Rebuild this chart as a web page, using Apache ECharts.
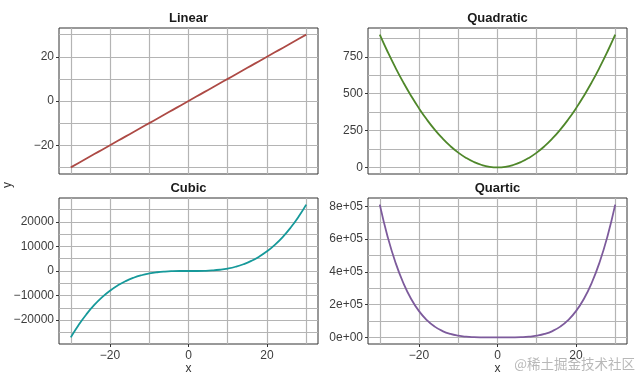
<!DOCTYPE html>
<html>
<head>
<meta charset="utf-8">
<script src="https://cdn.jsdelivr.net/npm/echarts@6/dist/echarts.min.js"></script>
<style>
html, body { margin: 0; padding: 0; background: #fff; }
#chart { width: 640px; height: 376px; }
</style>
</head>
<body>
<div id="chart"></div>
<script>
// x values shared by all four panels
const xs = [-30, -28, -26, -24, -22, -20, -18, -16, -14, -12, -10, -8, -6, -4, -2, 0,
  2, 4, 6, 8, 10, 12, 14, 16, 18, 20, 22, 24, 26, 28, 30];
const linear = [-30, -28, -26, -24, -22, -20, -18, -16, -14, -12, -10, -8, -6, -4, -2, 0,
  2, 4, 6, 8, 10, 12, 14, 16, 18, 20, 22, 24, 26, 28, 30];
const quadratic = [900, 784, 676, 576, 484, 400, 324, 256, 196, 144, 100, 64, 36, 16, 4, 0,
  4, 16, 36, 64, 100, 144, 196, 256, 324, 400, 484, 576, 676, 784, 900];
const cubic = [-27000, -21952, -17576, -13824, -10648, -8000, -5832, -4096, -2744, -1728, -1000, -512, -216, -64, -8, 0,
  8, 64, 216, 512, 1000, 1728, 2744, 4096, 5832, 8000, 10648, 13824, 17576, 21952, 27000];
const quartic = [810000, 614656, 456976, 331776, 234256, 160000, 104976, 65536, 38416, 20736, 10000, 4096, 1296, 256, 16, 0,
  16, 256, 1296, 4096, 10000, 20736, 38416, 65536, 104976, 160000, 234256, 331776, 456976, 614656, 810000];

const titles = ["Linear", "Quadratic", "Cubic", "Quartic"];
const colors = ["#ad4a45", "#4f872a", "#16999a", "#7d5b9c"];

// axis limits, grid lines and labelled ticks
const xRange = [-33, 33];
const xGrid = [-30, -20, -10, 0, 10, 20, 30];
const xTicks = [-20, 0, 20];
const yRanges = [[-33, 33], [-45, 945], [-29700, 29700], [-40500, 850500]];
const yGrid = [
  [-30, -20, -10, 0, 10, 20, 30],
  [0, 125, 250, 375, 500, 625, 750, 875],
  [-25000, -20000, -15000, -10000, -5000, 0, 5000, 10000, 15000, 20000, 25000],
  [0, 100000, 200000, 300000, 400000, 500000, 600000, 700000, 800000]
];
const yTicks = [
  [-20, 0, 20],
  [0, 250, 500, 750],
  [-20000, -10000, 0, 10000, 20000],
  [0, 200000, 400000, 600000, 800000]
];

const panels = [
  { left: 59, top: 28 },
  { left: 368, top: 28 },
  { left: 59, top: 198 },
  { left: 368, top: 198 }
];
const panelW = 259, panelH = 146;
const gridColor = "#b4b4b4";
const labelColor = "#3d3d3d";
const font = "Liberation Sans";

function num(v) {
  return String(v).replace("-", "\u2212");
}
function sci(v) {
  if (v === 0) return "0e+00";
  const e = Math.floor(Math.log10(Math.abs(v)));
  const m = Math.round(v / Math.pow(10, e));
  return num(m) + "e+" + String(e).padStart(2, "0");
}

const xAxis = [], yAxis = [];
// grid-line axes (one pair per panel)
panels.forEach((p, i) => {
  xAxis.push({
    type: "value", gridIndex: i, min: xRange[0], max: xRange[1], position: "bottom",
    axisLine: { show: false, onZero: false },
    axisTick: { show: false, customValues: xGrid },
    axisLabel: { show: false },
    splitLine: { show: true, lineStyle: { color: gridColor, width: 1.2 } }
  });
  yAxis.push({
    type: "value", gridIndex: i, min: yRanges[i][0], max: yRanges[i][1], position: "left",
    axisLine: { show: false, onZero: false },
    axisTick: { show: false, customValues: yGrid[i] },
    axisLabel: { show: false },
    splitLine: { show: true, lineStyle: { color: gridColor, width: 1.2 } }
  });
});
// labelled axes
panels.forEach((p, i) => {
  if (i >= 2) {
    xAxis.push({
      type: "value", gridIndex: i, min: xRange[0], max: xRange[1], position: "bottom",
      axisLine: { show: false, onZero: false },
      axisTick: { show: true, length: 3, customValues: xTicks, lineStyle: { color: "#333" } },
      axisLabel: { customValues: xTicks, margin: 6, color: labelColor, fontSize: 12, fontFamily: font, formatter: num },
      splitLine: { show: false },
      name: "x", nameLocation: "middle", nameGap: 17,
      nameTextStyle: { color: "#333", fontSize: 12, fontFamily: font }
    });
  }
  yAxis.push({
    type: "value", gridIndex: i, min: yRanges[i][0], max: yRanges[i][1], position: "left",
    axisLine: { show: false, onZero: false },
    axisTick: { show: true, length: 3, customValues: yTicks[i], lineStyle: { color: "#333" } },
    axisLabel: { customValues: yTicks[i], margin: 5, color: labelColor, fontSize: 12, fontFamily: font,
      formatter: i === 3 ? sci : num },
    splitLine: { show: false }
  });
});

const seriesData = [linear, quadratic, cubic, quartic];

const graphic = titles.map((t, i) => ({
  type: "text",
  x: panels[i].left + panelW / 2,
  y: panels[i].top - 10,
  style: { text: t, align: "center", verticalAlign: "middle", fontSize: 13, fontWeight: "bold",
    fontFamily: font, fill: "#1a1a1a" }
}));
graphic.push({
  type: "text", x: 8, y: 185, rotation: Math.PI / 2,
  style: { text: "y", align: "center", verticalAlign: "middle", fontSize: 12, fontFamily: font, fill: "#333" }
});
graphic.push({
  type: "text", x: 635, y: 364,
  style: { text: "@稀土掘金技术社区", align: "right", verticalAlign: "middle", fontSize: 13.5,
    fontFamily: "Noto Sans CJK SC", fill: "rgba(160,160,160,0.75)" }
});

const option = {
  animation: false,
  grid: panels.map(p => ({
    left: p.left, top: p.top, width: panelW, height: panelH,
    show: true, borderColor: "#333", borderWidth: 1
  })),
  xAxis: xAxis,
  yAxis: yAxis,
  series: seriesData.map((d, i) => ({
    type: "line",
    xAxisIndex: i,
    yAxisIndex: i,
    data: xs.map((x, k) => [x, d[k]]),
    showSymbol: false,
    smooth: true,
    silent: true,
    lineStyle: { color: colors[i], width: 1.8 },
    itemStyle: { color: colors[i] }
  })),
  graphic: graphic
};

const chart = echarts.init(document.getElementById("chart"));
chart.setOption(option);
</script>
</body>
</html>
